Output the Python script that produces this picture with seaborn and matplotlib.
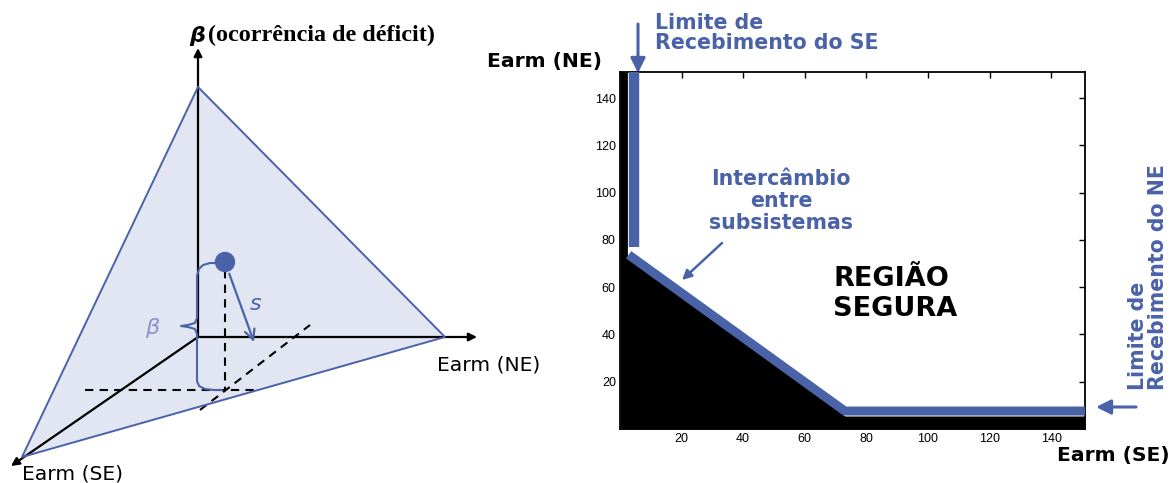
import matplotlib
matplotlib.use("Agg")
import matplotlib.pyplot as plt
import matplotlib.patches as mpatches
import seaborn as sns
import pandas as pd

# right panel: boundary of the safe region (Earm SE on x, Earm NE on y)
se_limit_x = [4.5, 4.5]
se_limit_y = [151, 77]
exchange_x = [2.8, 73.0, 151]
exchange_y = [73.7, 7.6, 7.6]
deficit_x = [0, 2.4, 2.4, 73.0, 151]
deficit_y = [151, 151, 73.0, 5.5, 5.5]
ticks = [20, 40, 60, 80, 100, 120, 140]

# left panel: schematic in figure pixel units
origin = (198, 337)
beta_tip = (198, 48)
ne_tip = (477, 337)
se_tip = (11, 466)
apex = (198, 87)
ne_vertex = (445, 337)
se_vertex = (22, 457)
point = (225, 262)
s_end = (254, 342)
foot = (225, 390)

blue = "#4a62a8"
light = "#e1e6f2"

sns.set_style("white")
plt.rcParams.update({"text.color": "black", "xtick.color": "black", "ytick.color": "black",
                     "axes.labelcolor": "black"})
fig = plt.figure(figsize=(11.76, 4.83), dpi=100)

# ---------- right panel ----------
ax = fig.add_axes([620 / 1176, (483 - 429) / 483, 465 / 1176, 357 / 483])
ax.fill_between(deficit_x, 0, deficit_y, color="black", lw=0, zorder=1)
sns.lineplot(x=se_limit_x, y=se_limit_y, estimator=None, sort=False, ax=ax,
             color=blue, lw=7.5, solid_capstyle="butt", zorder=3)
sns.lineplot(x=exchange_x, y=exchange_y, estimator=None, sort=False, ax=ax,
             color=blue, lw=6.5, solid_capstyle="butt", solid_joinstyle="miter", zorder=3)
ax.set_xlim(0, 151)
ax.set_ylim(0, 151)
ax.set_xticks(ticks)
ax.set_yticks(ticks)
ax.set_xticklabels(ticks, fontsize=9, family="Liberation Sans")
ax.set_yticklabels(ticks, fontsize=9, family="Liberation Sans")
ax.tick_params(direction="in", length=4, width=1, top=True, right=True, pad=3)
for side in ["top", "right", "left", "bottom"]:
    ax.spines[side].set_color("black")
    ax.spines[side].set_linewidth(1.3)
ax.set_facecolor("white")

# ---------- overlay in pixel units (left schematic + annotations) ----------
ov = fig.add_axes([0, 0, 1, 1], zorder=5)
ov.set_xlim(0, 1176)
ov.set_ylim(483, 0)
ov.axis("off")

tri = mpatches.Polygon([apex, ne_vertex, se_vertex], closed=True,
                       facecolor=light, edgecolor="none", zorder=1)
ov.add_patch(tri)

axis_style = dict(arrowstyle="-|>", mutation_scale=12, color="black", lw=1.6, zorder=3)
for tip in [beta_tip, ne_tip, se_tip]:
    ov.add_patch(mpatches.FancyArrowPatch(origin, tip, shrinkA=0, shrinkB=0, **axis_style))

edge = mpatches.Polygon([apex, ne_vertex, se_vertex], closed=True,
                        facecolor="none", edgecolor=blue, lw=1.4, zorder=4)
ov.add_patch(edge)

# dashed projection lines
dash = dict(color="black", lw=1.5, ls=(0, (4, 3)), zorder=3)
ov.plot([point[0], foot[0]], [point[1] + 8, foot[1]], **dash)
ov.plot([85, 255], [foot[1], foot[1]], **dash)
ov.plot([200, 310], [410, 325], **dash)

# point and s arrow
ov.add_patch(mpatches.Circle(point, 9.5, color=blue, zorder=6))
ov.add_patch(mpatches.FancyArrowPatch(point, s_end, arrowstyle="->", mutation_scale=18,
                                      color=blue, lw=1.6, shrinkA=9, shrinkB=0, zorder=6))
ov.text(256, 304, "s", color=blue, fontsize=16, style="italic", ha="center", va="center",
        family="DejaVu Sans", zorder=6)

# brace for beta
brace_x = [217, 210, 203, 199, 197, 197, 195, 188, 181, 188, 195, 197, 197, 199, 205, 214, 222]
brace_y = [263, 263, 265, 269, 276, 318, 323, 325, 326, 327, 329, 334, 381, 386, 389, 390, 390]
ov.plot(brace_x, brace_y, color=blue, lw=1.5, zorder=5)
ov.text(152, 328, "β", color="#8d92c9", fontsize=16, style="italic", ha="center", va="center",
        family="DejaVu Sans", zorder=6)

# left labels
ov.text(189, 36, "β", fontsize=16, weight="bold", style="italic", ha="left", va="center",
        family="DejaVu Sans")
ov.text(208, 35, "(ocorrência de déficit)", fontsize=17.4, weight="bold", ha="left",
        va="center", family="Liberation Serif")
ov.text(437, 365, "Earm (NE)", fontsize=14.6, ha="left", va="center", family="DejaVu Sans")
ov.text(22, 474, "Earm (SE)", fontsize=14.6, ha="left", va="center", family="DejaVu Sans")

# right labels
ov.text(487, 62, "Earm (NE)", fontsize=14.6, weight="bold", ha="left", va="center",
        family="DejaVu Sans")
ov.text(1057, 455, "Earm (SE)", fontsize=14.6, weight="bold", ha="left", va="center",
        family="DejaVu Sans")

ann = dict(fontsize=14.8, weight="bold", color=blue, family="DejaVu Sans")
ov.text(655, 33, "Limite de\nRecebimento do SE", ha="left", va="center",
        linespacing=0.98, **ann)
ov.text(781, 201, "Intercâmbio\nentre\nsubsistemas", ha="center", va="center",
        multialignment="center", linespacing=1.12, **ann)
ov.text(1148, 390, "Limite de\nRecebimento do NE", rotation=90, ha="center", va="bottom",
        multialignment="left", linespacing=0.98, **ann)
ov.text(833, 294, "REGIÃO\nSEGURA", fontsize=19.5, weight="bold", color="black",
        ha="left", va="center", multialignment="left", family="DejaVu Sans",
        linespacing=1.22)

arr = dict(arrowstyle="-|>", mutation_scale=22, color=blue, lw=2.2, shrinkA=0, shrinkB=0, zorder=6)
ov.add_patch(mpatches.FancyArrowPatch((638, 24), (638, 73), **arr))
ov.add_patch(mpatches.FancyArrowPatch((1136, 407), (1096, 407), **arr))
ov.add_patch(mpatches.FancyArrowPatch((722, 243), (682, 280), arrowstyle="-|>",
                                      mutation_scale=14, color=blue, lw=1.8,
                                      shrinkA=0, shrinkB=0, zorder=6))

fig.savefig("out.png", dpi=100)
